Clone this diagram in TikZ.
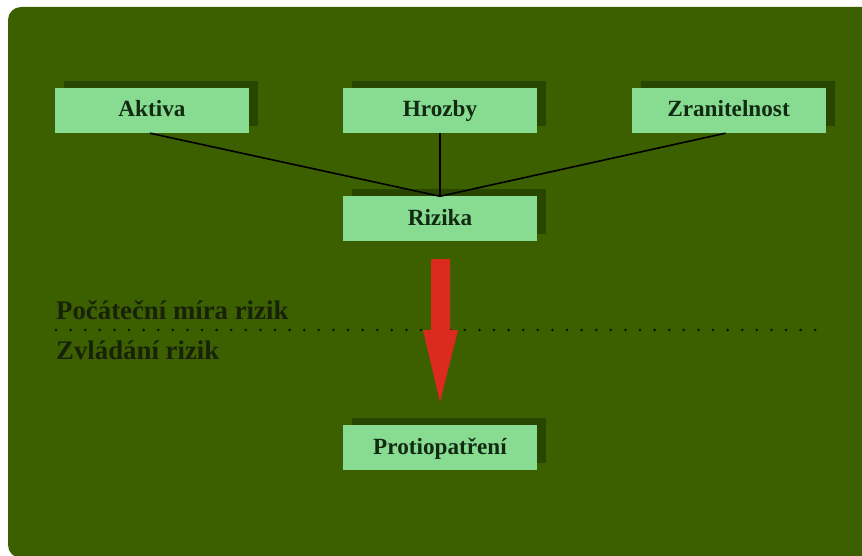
\documentclass[tikz,border=0pt]{standalone}
\usepackage{fontspec}
\setmainfont{Liberation Serif}
\usetikzlibrary{shadows}
\definecolor{bggreen}{RGB}{60,95,0}
\definecolor{boxfill}{RGB}{135,220,145}
\definecolor{boxshadow}{RGB}{40,70,0}
\definecolor{boxtext}{RGB}{18,42,18}
\definecolor{labeltext}{RGB}{24,34,8}
\definecolor{arrowred}{RGB}{220,42,30}
\tikzset{
  riskbox/.style={rectangle, fill=boxfill, minimum width=194pt, minimum height=45pt,
    inner sep=0pt, text height=17pt, text depth=4pt, text=boxtext,
    font=\fontsize{23.2}{23.2}\selectfont\bfseries,
    drop shadow={shadow xshift=9pt, shadow yshift=7pt, fill=boxshadow, opacity=1}},
  link/.style={draw=black, line width=1.6pt},
  phase/.style={anchor=base west, inner sep=0pt, text=labeltext,
    font=\fontsize{26.8}{26.8}\selectfont\bfseries},
  divider/.style={draw=black!80!bggreen, line width=2.8pt, line cap=round,
    dash pattern=on 0pt off 14.6pt}
}
\begin{document}
\begin{tikzpicture}[x=1pt, y=-1pt]
  \useasboundingbox (0,0) rectangle (862,556);
  \fill[white] (0,0) rectangle (862,556);
  \begin{scope}
    \clip (0,0) rectangle (862,556);
    \fill[bggreen, rounded corners=13pt] (8,7) rectangle (880,558);
  \end{scope}

  % boxes
  \node[riskbox] (aktiva) at (152,110.5) {Aktiva};
  \node[riskbox] (hrozby) at (440,110.5) {Hrozby};
  \node[riskbox] (zranitelnost) at (728.5,110.5) {Zranitelnost};
  \node[riskbox] (rizika) at (440,219) {Rizika};
  \node[riskbox] (protiopatreni) at (440,447.5) {Protiopatření};

  % connectors into the risk box
  \draw[link] ([xshift=-2pt]aktiva.south) -- (rizika.north);
  \draw[link] (hrozby.south) -- (rizika.north);
  \draw[link] ([xshift=-3pt]zranitelnost.south) -- (rizika.north);

  % phase separator
  \coordinate (divL) at (56,330);
  \coordinate (divR) at (821,330);
  \draw[divider] (divL) -- (divR);
  \node[phase] (initial) at (56,319) {Počáteční míra rizik};
  \node[phase] (handling) at (56,359) {Zvládání rizik};

  % block arrow from risks to countermeasures
  \fill[arrowred] (431,259) -- (450,259) -- (450,330) -- (458,330) -- (440,402)
    -- (423,330) -- (431,330) -- cycle;
\end{tikzpicture}
\end{document}
